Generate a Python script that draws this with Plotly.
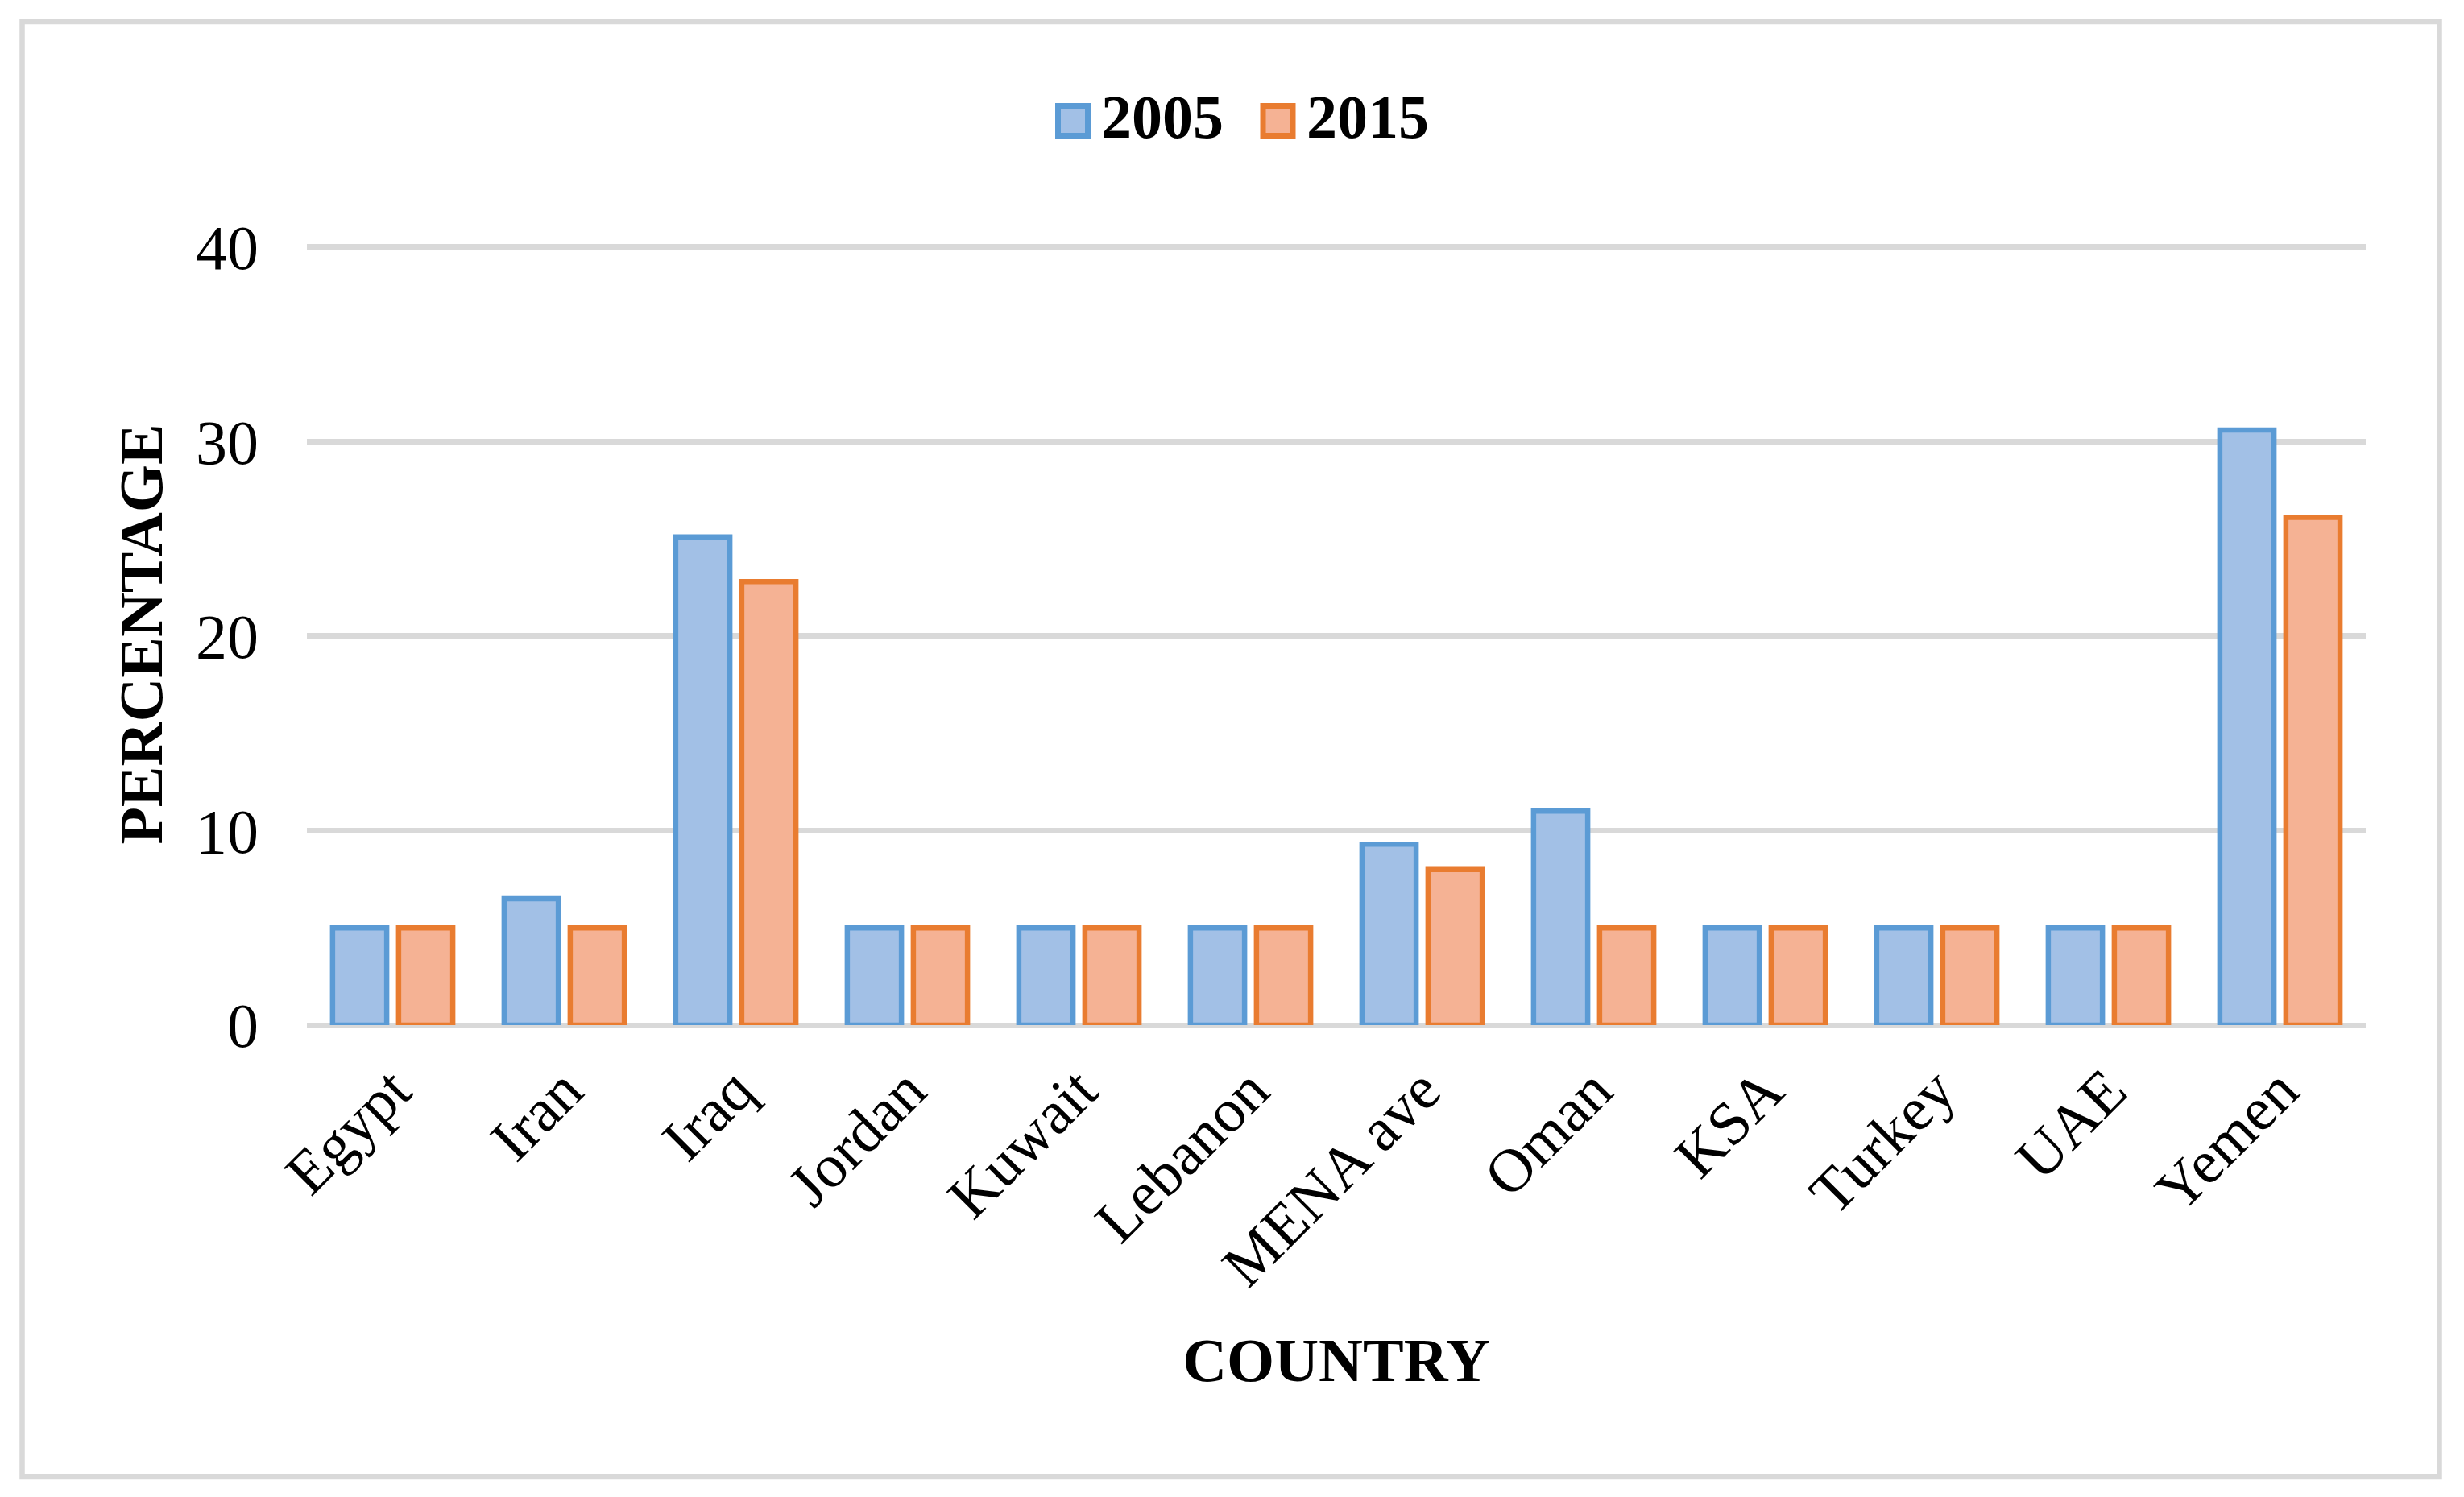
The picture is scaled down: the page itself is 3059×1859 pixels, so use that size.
import plotly.graph_objects as go

countries = ["Egypt", "Iran", "Iraq", "Jordan", "Kuwait", "Lebanon", "MENA ave",
             "Oman", "KSA", "Turkey", "UAE", "Yemen"]
values_2005 = [5, 6.5, 25.1, 5, 5, 5, 9.3, 11.0, 5, 5, 5, 30.6]
values_2015 = [5, 5, 22.8, 5, 5, 5, 8.0, 5, 5, 5, 5, 26.1]
series_names = ["2005", "2015"]
y_ticks = [0, 10, 20, 30, 40]

FONT = "Liberation Serif, Times New Roman, serif"
BLUE_LINE, BLUE_FILL = "#5B9BD5", "#A2C0E6"
ORANGE_LINE, ORANGE_FILL = "#E97C30", "#F5B294"
GRID = "#D9D9D9"

fig = go.Figure()
fig.add_trace(go.Bar(x=countries, y=values_2005, name=series_names[0],
                     marker=dict(color=BLUE_FILL, line=dict(color=BLUE_LINE, width=6.5)),
                     showlegend=False))
fig.add_trace(go.Bar(x=countries, y=values_2015, name=series_names[1],
                     marker=dict(color=ORANGE_FILL, line=dict(color=ORANGE_LINE, width=6.5)),
                     showlegend=False))

# page body has an 8px margin: the figure is drawn from (8, 8) of the screen
OFF = 8
W, H = 3059 - OFF, 1859 - OFF
Y_TOP = 40.2
L, R, T, B = 373, 122, 294, 586
pw, ph = W - L - R, H - T - B

def px(x):
    # screen x -> paper x
    return (x - OFF - L) / pw

def py(y):
    # screen y -> paper y
    return (H - B - (y - OFF)) / ph

shapes = [
    dict(type="rect", xref="paper", yref="paper",
         x0=px(27.5), x1=px(3028.5), y0=py(1834), y1=py(27),
         line=dict(color=GRID, width=6.5), fillcolor="rgba(0,0,0,0)", layer="below"),
    dict(type="rect", xref="paper", yref="paper",
         x0=px(1313.5), x1=px(1350.5), y0=py(168.5), y1=py(131.5),
         line=dict(color=BLUE_LINE, width=7), fillcolor=BLUE_FILL),
    dict(type="rect", xref="paper", yref="paper",
         x0=px(1568), x1=px(1605), y0=py(168.5), y1=py(131.5),
         line=dict(color=ORANGE_LINE, width=7), fillcolor=ORANGE_FILL),
]

annotations = [
    dict(text="<b>" + series_names[0] + "</b>", xref="paper", yref="paper",
         x=px(1365), y=py(145), xanchor="left", yanchor="middle", showarrow=False,
         font=dict(family=FONT, size=76, color="black")),
    dict(text="<b>" + series_names[1] + "</b>", xref="paper", yref="paper",
         x=px(1620), y=py(145), xanchor="left", yanchor="middle", showarrow=False,
         font=dict(family=FONT, size=76, color="black")),
]

fig.update_layout(
    width=W, height=H,
    margin=dict(l=L, r=R, t=T, b=B, pad=0),
    paper_bgcolor="white", plot_bgcolor="white",
    barmode="group", bargap=0.23, bargroupgap=0.18,
    font=dict(family=FONT, color="black", size=76),
    shapes=shapes, annotations=annotations,
    showlegend=False,
)
fig.update_xaxes(
    tickangle=-45, tickfont=dict(family=FONT, size=76, color="black"),
    showgrid=False, showline=False, ticks="", ticklabelstandoff=20,
    title=dict(text="<b>COUNTRY</b>", font=dict(family=FONT, size=76, color="black"), standoff=49),
)
fig.update_yaxes(
    range=[0, Y_TOP], tickvals=y_ticks, ticktext=[str(v) for v in y_ticks],
    tickfont=dict(family=FONT, size=78, color="black"),
    showgrid=True, gridcolor=GRID, gridwidth=7,
    zeroline=True, zerolinecolor=GRID, zerolinewidth=7,
    showline=False, ticks="", ticklabelstandoff=59,
    title=dict(text="<b>PERCENTAGE</b>", font=dict(family=FONT, size=76, color="black"), standoff=16),
)

fig.write_html("out.html")
